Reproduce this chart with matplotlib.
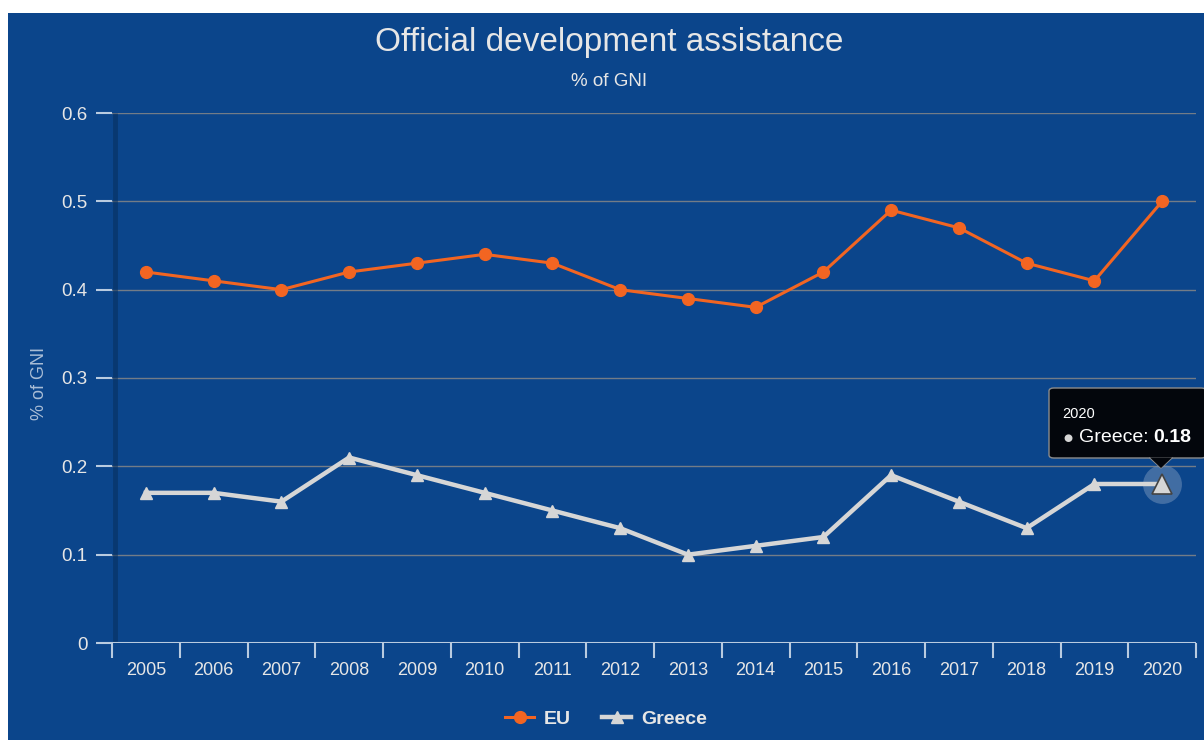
import matplotlib
matplotlib.use('Agg')
import matplotlib.pyplot as plt
from matplotlib.patches import Rectangle, FancyBboxPatch, Polygon
from matplotlib.lines import Line2D

plt.rcParams['font.family'] = ['Liberation Sans', 'DejaVu Sans']

# 数据
years = ['2005', '2006', '2007', '2008', '2009', '2010', '2011', '2012',
         '2013', '2014', '2015', '2016', '2017', '2018', '2019', '2020']
eu = [0.42, 0.41, 0.40, 0.42, 0.43, 0.44, 0.43, 0.40,
      0.39, 0.38, 0.42, 0.49, 0.47, 0.43, 0.41, 0.50]
greece = [0.17, 0.17, 0.16, 0.21, 0.19, 0.17, 0.15, 0.13,
          0.10, 0.11, 0.12, 0.19, 0.16, 0.13, 0.18, 0.18]
y_ticks = [0, 0.1, 0.2, 0.3, 0.4, 0.5, 0.6]

BG = '#0b458b'
EU_C = '#f26522'
GR_C = '#d6d6d6'
TXT = '#e6e6e6'
AXC = '#b9cbe0'

W, H = 1204, 740
fig = plt.figure(figsize=(W / 100, H / 100), dpi=100, facecolor=BG)
# 白边（上、左）
fig.patches.append(Rectangle((0, 1 - 13 / H), 1, 13 / H, transform=fig.transFigure,
                             facecolor='white', edgecolor='none', zorder=-5))
fig.patches.append(Rectangle((0, 0), 8 / W, 1, transform=fig.transFigure,
                             facecolor='white', edgecolor='none', zorder=-5))

ax = fig.add_axes([112 / W, 1 - 643 / H, (1196 - 112) / W, (643 - 113) / H])
ax.patch.set_alpha(0)

x = list(range(len(years)))
ax.set_xlim(-0.5, len(years) - 0.5)
ax.set_ylim(0, 0.6)

for v in y_ticks[1:]:
    ax.axhline(v, color='#737c87', linewidth=1.0, zorder=1)
ax.axhline(0, color=AXC, linewidth=1.5, zorder=2)

# 左侧阴影
ax.plot([-0.455, -0.455], [0, 0.6], color='#062f5c', linewidth=3.5, alpha=0.55,
        zorder=1, solid_capstyle='butt')

for s in ax.spines.values():
    s.set_visible(False)

ax.set_yticks(y_ticks)
ax.set_yticklabels(['0', '0.1', '0.2', '0.3', '0.4', '0.5', '0.6'])
ax.tick_params(axis='y', colors=AXC, labelcolor=TXT, length=11.5,
               width=1.5, labelsize=13.5, pad=6)

# x 轴：刻度在类别边界，标签在中心
ax.set_xticks([i - 0.5 for i in range(len(years) + 1)])
ax.set_xticklabels([])
ax.set_xticks(x, minor=True)
ax.set_xticklabels(years, minor=True)
ax.tick_params(axis='x', which='major', colors=AXC, length=11, width=1.5,
               direction='out')
ax.tick_params(axis='x', which='minor', length=0, labelcolor=TXT,
               labelsize=13, pad=14)

ax.plot(x, eu, color=EU_C, linewidth=2.2, marker='o', markersize=8.5,
        zorder=5, clip_on=False)
ax.plot(x, greece, color=GR_C, linewidth=3.2, marker='^', markersize=9,
        zorder=5, clip_on=False)

# 高亮最后一点
ax.plot(x[-1], greece[-1], marker='o', markersize=28, color='#6f8fb8',
        alpha=0.55, zorder=4, markeredgewidth=0, clip_on=False)
ax.plot(x[-1], greece[-1], marker='^', markersize=14, color=GR_C,
        markeredgecolor='#444444', markeredgewidth=1.2, zorder=6, clip_on=False)

ax.set_ylabel('% of GNI', color='#a9bdd6', fontsize=13)
ax.yaxis.set_label_coords(-64 / (1196 - 112), 0.49)

fig.text(609 / W, 1 - 43 / H, 'Official development assistance', color=TXT,
         fontsize=24, ha='center', va='center')
fig.text(609 / W, 1 - 81 / H, '% of GNI', color=TXT, fontsize=13.5,
         ha='center', va='center')

# tooltip
tx0, ty0, tx1, ty1 = 1049, 388, 1206, 458
fig.patches.append(FancyBboxPatch((tx0 / W, 1 - ty1 / H), (tx1 - tx0) / W,
                                  (ty1 - ty0) / H, boxstyle='round,pad=0,rounding_size=0.004',
                                  transform=fig.transFigure, facecolor='#03060c',
                                  edgecolor='#8c8c8c', linewidth=1, zorder=10))
fig.patches.append(Polygon([(1150 / W, 1 - 457.5 / H), (1172 / W, 1 - 457.5 / H),
                            (1161 / W, 1 - 468 / H)], closed=True,
                           transform=fig.transFigure, facecolor='#03060c',
                           edgecolor='none', zorder=11))
fig.add_artist(Line2D([1150 / W, 1161 / W, 1172 / W],
                      [1 - 458 / H, 1 - 468 / H, 1 - 458 / H],
                      color='#8c8c8c', linewidth=1, zorder=11))
fig.text(1062 / W, 1 - 414 / H, years[-1], color='white', fontsize=10.5,
         ha='left', va='center', zorder=12)
fig.text(1063 / W, 1 - 438 / H, '\u25cf', color='#d6d6d6', fontsize=7.5,
         ha='left', va='center', zorder=12, family='DejaVu Sans')
t1 = fig.text(1079 / W, 1 - 438 / H, 'Greece:', color='white', fontsize=14,
              ha='left', va='center', zorder=12)
r = fig.canvas.get_renderer()
bb = t1.get_window_extent(renderer=r)
fig.text((bb.x1 + 5) / W, 1 - 438 / H, f'{greece[-1]:.2f}', color='white',
         fontsize=14, fontweight='bold', ha='left', va='center', zorder=12)

# 图例
handles = [Line2D([], [], color=EU_C, marker='o', linewidth=2.2, markersize=8.5),
           Line2D([], [], color=GR_C, marker='^', linewidth=3.2, markersize=9)]
leg = fig.legend(handles, ['EU', 'Greece'], loc='center',
                 bbox_to_anchor=(606 / W, 1 - 719 / H), ncol=2, frameon=False,
                 fontsize=14, handlelength=1.5, columnspacing=1.6,
                 handletextpad=0.5)
for t in leg.get_texts():
    t.set_color(TXT)
    t.set_fontweight('bold')

fig.savefig('out.png', dpi=100, facecolor=BG)
